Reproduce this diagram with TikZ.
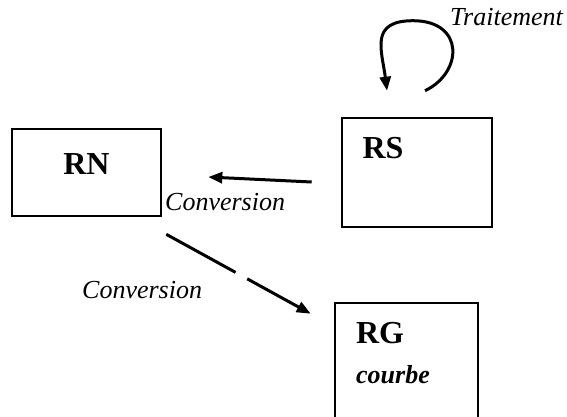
\documentclass[tikz,border=0pt]{standalone}
\usepackage{fontspec}
\setmainfont{Liberation Serif}
\usetikzlibrary{arrows.meta,calc}
\begin{document}
\begin{tikzpicture}[x=1pt,y=-1pt,
  box/.style={draw,line width=2.6pt,inner sep=0pt},
  conn/.style={line width=3pt,-{Triangle[length=14pt,width=11pt]}},
  lab/.style={font=\fontsize{26}{30}\selectfont\itshape,anchor=base west,inner sep=0pt},
  boxlab/.style={font=\fontsize{32}{36}\selectfont\bfseries,inner sep=0pt}]
\useasboundingbox (0,0) rectangle (567,416);
\node[box,minimum width=149pt,minimum height=87pt] (RN) at (86.5,172.5) {};
\node[box,minimum width=150pt,minimum height=109pt] (RS) at (417,172.5) {};
\node[box,minimum width=143pt,minimum height=140pt] (RG) at (406.5,373) {};
\node[boxlab] (tRN) at (86.5,164) {RN};
\node[boxlab] (tRS) at (383,148) {RS};
\node[boxlab] (tRG) at (380,333) {RG};
\node[lab,font=\fontsize{26}{30}\selectfont\bfseries\itshape] (tcourbe) at (356,383) {courbe};
\node[lab] (lconv1) at (165,210) {Conversion};
\node[lab] (lconv2) at (82,298) {Conversion};
\node[lab] (ltrait) at (450,25) {Traitement};
\draw[conn] ($(RS.west)+(-29,9.5)$) -- ($(RN.east)+(46,4.5)$);
\draw[conn] ($(RN.south east)+(4,17)$) -- node[pos=0.52,fill=white,minimum size=13pt,inner sep=0pt,sloped]{} ($(RG.north west)+(-23,12)$);
\draw[conn] ($(RS.north)+(8,-26)$) .. controls +(38,-18) and +(52,0) .. ($(RS.north)+(-4,-96)$) .. controls +(-44,0) and +(-5,-40) .. ($(RS.north)+(-30,-26)$);
\end{tikzpicture}
\end{document}
